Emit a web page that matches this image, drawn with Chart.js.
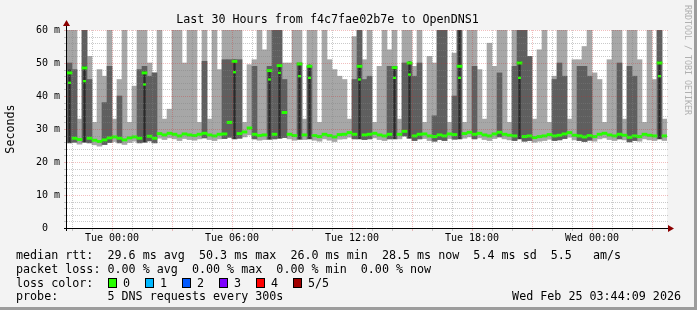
<!DOCTYPE html>
<html>
<head>
<meta charset="utf-8">
<title>Last 30 Hours from f4c7fae02b7e to OpenDNS1</title>
<script src="https://cdn.jsdelivr.net/npm/chart.js@4.4.1/dist/chart.umd.min.js"></script>
<style>
  html, body { margin: 0; padding: 0; background: #f3f3f3; }
  .graph { position: relative; width: 697px; height: 310px; overflow: hidden; background: #f3f3f3;
           font-family: 'DejaVu Sans Mono', monospace; color: #000; }
  .graph canvas { position: absolute; left: 0; top: 0; }
  .txt { position: absolute; font-size: 11.7px; line-height: 14px; white-space: pre; }
  .title { left: 0; width: 655px; top: 12px; text-align: center; }
  .row { left: 16px; }
  .stamp { right: 16px; top: 289px; }
  .box { position: absolute; width: 7px; height: 8px; border: 1px solid #000; top: 278px; }
  .mark { position: absolute; left: 683px; top: 5px; writing-mode: vertical-rl; font-size: 8.3px;
          line-height: 9px; color: #b0b0b0; white-space: pre; }
  .shadeR { position: absolute; left: 694px; top: 0; width: 3px; height: 310px; background: #9c9c9c; }
  .shadeB { position: absolute; left: 0; top: 307px; width: 697px; height: 3px; background: #9c9c9c; }
</style>
</head>
<body>
<div class="graph" id="graph">
  <canvas id="chart" width="697" height="310"></canvas>
  <div class="txt title">Last 30 Hours from f4c7fae02b7e to OpenDNS1</div>
  <div class="txt row" style="top:247.5px">median rtt:  29.6 ms avg  50.3 ms max  26.0 ms min  28.5 ms now  5.4 ms sd  5.5   am/s</div>
  <div class="txt row" style="top:261.5px">packet loss: 0.00 % avg  0.00 % max  0.00 % min  0.00 % now</div>
  <div class="txt row" style="top:275.5px">loss color:</div>
  <div class="txt row" style="top:289px">probe:       5 DNS requests every 300s</div>
  <div class="txt stamp">Wed Feb 25 03:44:09 2026</div>
  <div class="mark">RRDTOOL / TOBI OETIKER</div>
  <div class="shadeR"></div>
  <div class="shadeB"></div>
</div>
<script>
// 120 slots of 15 minutes, Mon 21:45 .. Wed 03:45 (values in ms)
const slotLow = [
  25.8, 26.0, 25.4, 26.0, 25.8, 25.2, 24.8, 25.3, 25.9, 26.2, 25.8, 25.3, 25.9, 26.3, 25.8, 26.0, 26.4, 25.8,
  27.2, 26.8, 27.3, 27.0, 26.5, 27.1, 26.8, 26.6, 27.0, 27.3, 26.8, 26.5, 27.0,
  27.1, 27.5, 27.0, 27.2, 27.6, 28.2, 27.0, 26.6, 26.8, 26.9, 27.0, 27.2, 27.4, 27.0, 26.6,
  26.9, 26.8, 27.0, 26.6, 26.3, 27.0, 26.6, 26.2, 26.9, 27.0, 27.5, 27.0, 27.0, 26.8, 27.0,
  27.3, 26.8, 26.5, 27.0, 27.0, 27.0, 27.9, 27.2, 26.5, 27.0, 27.1, 26.5, 26.3, 26.8, 26.5,
  27.1, 26.9, 27.0, 27.2, 27.6, 27.0, 27.3, 26.8, 26.5, 27.1, 27.6, 27.0, 26.7, 26.5, 27.0,
  26.3, 26.5, 26.0, 26.3, 26.5, 26.9, 26.5, 26.7, 27.1, 27.5, 26.7, 26.5, 26.2, 26.6, 26.3,
  27.0, 27.3, 26.8, 26.5, 27.0, 26.7, 26.1, 26.5, 26.3, 27.0, 26.7, 26.5, 27.0, 26.5
];
const slotHigh = [
  62, 62, 33, 62, 52, 32, 48, 46, 62, 33,
  45, 62, 32, 43, 62, 60, 50, 47, 62, 33,
  36, 62, 62, 50, 62, 62, 32, 62, 33, 62,
  48, 62, 62, 62, 62, 32, 49.5, 51, 62, 54,
  62, 62, 62, 50, 50, 62, 62, 33, 62, 62,
  32, 62, 51, 48, 46, 45, 33, 58, 62, 51,
  62, 32, 49, 62, 54, 62, 33, 60, 62, 49,
  62, 32, 52, 50, 62, 62, 32, 53, 62, 32,
  62, 62, 48, 33, 56, 49, 62, 62, 32, 62,
  62, 62, 52, 33, 54, 62, 32, 46, 62, 62,
  33, 51, 51, 55, 62, 47, 45, 32, 51, 62,
  62, 33, 62, 62, 51, 32, 62, 45, 62, 33
];
const slotDark = [
  50, 48, 0, 62, 45, 0, 0, 38, 49, 0,
  40, 0, 0, 0, 48, 49, 46, 47, 0, 0,
  0, 0, 0, 0, 0, 0, 0, 50.5, 0, 0,
  0, 51, 51, 51, 51, 0, 0, 49, 0, 0,
  49, 62, 62, 45, 0, 0, 50, 0, 49, 0,
  0, 0, 0, 0, 0, 0, 0, 45, 62, 45,
  46, 0, 0, 0, 49, 49, 0, 50, 50, 46,
  50, 0, 0, 34, 62, 62, 0, 40, 62, 0,
  0, 49, 0, 0, 0, 0, 47, 0, 0, 49,
  62, 62, 52, 0, 0, 0, 0, 45, 50, 46,
  0, 0, 49, 49, 46, 0, 0, 0, 0, 0,
  50, 0, 49, 46, 0, 0, 0, 0, 62, 0
];
const slotMedian = [
  47, 27.2, 26.8, 48.5, 27.2, 26.6, 26.2, 26.7, 27.3, 27.6, 27.2, 26.7, 27.3, 27.6, 27.2, 47, 27.8, 27.2,
  28.6, 28.2, 28.7, 28.4, 27.9, 28.5, 28.2, 28.0, 28.4, 28.7, 28.2, 27.9, 28.4,
  28.5, 32, 50.5, 28.6, 29.1, 30.3, 28.4, 28.0, 28.2, 47.7, 28.4, 49.2, 35, 28.4, 28.0,
  49.7, 28.2, 49.0, 28.0, 27.7, 28.4, 28.0, 27.6, 28.3, 28.4, 28.9, 28.4, 49.0, 28.2, 28.4,
  28.7, 28.2, 27.9, 28.4, 48.6, 28.4, 29.3, 50.0, 27.9, 28.4, 28.5, 27.9, 27.7, 28.2, 27.9,
  28.5, 28.3, 49.0, 28.6, 29.0, 28.4, 28.7, 28.2, 27.9, 28.5, 29.0, 28.4, 28.1, 27.9, 50.0,
  27.7, 27.9, 27.4, 27.7, 27.9, 28.3, 27.9, 28.1, 28.5, 28.9, 28.1, 27.9, 27.6, 28.0, 27.7,
  28.4, 28.7, 28.2, 27.9, 28.4, 28.1, 27.5, 27.9, 27.7, 28.4, 28.1, 27.9, 50.0, 27.9
];
// narrow black spikes and their second median sample
const spikeSlot = [0, 3, 15, 33, 40, 42, 46, 48, 58, 65, 68, 78, 90, 118];
const spikeTop  = [48, 49, 47.5, 51, 48, 49.5, 50, 49.5, 49.5, 49, 50.5, 62, 50.5, 50.5];
const spikeLow  = [44, 44.5, 43.5, 47.2, 45, 47, 46, 45.5, 45, 45.5, 46.5, 45.5, 45.5, 46];

const hourTicks = [0, 6, 12, 18, 24];
const hourLabels = ['Tue 00:00', 'Tue 06:00', 'Tue 12:00', 'Tue 18:00', 'Wed 00:00'];
const yTicks = [0, 10, 20, 30, 40, 50, 60];
const yLabels = ['0  ', '10 m', '20 m', '30 m', '40 m', '50 m', '60 m'];
const lossLabels = ['0', '1', '2', '3', '4', '5/5'];
const lossColors = ['#26ff00', '#00b8ff', '#0059ff', '#7e00ff', '#ff0000', '#a10000'];

// loss colour legend
const graph = document.getElementById('graph');
lossLabels.forEach((t, i) => {
  const x = 108 + i * 37;
  const b = document.createElement('div');
  b.className = 'box';
  b.style.left = x + 'px';
  b.style.background = lossColors[i];
  graph.appendChild(b);
  const l = document.createElement('div');
  l.className = 'txt';
  l.style.left = (x + 15) + 'px';
  l.style.top = '275.5px';
  l.textContent = t;
  graph.appendChild(l);
});

const mono = "'DejaVu Sans Mono', monospace";
const band = (top) => slotLow.map((lo, i) => top[i] > 0 ? [lo, top[i]] : null);
const dash = (v) => [v - 0.35, v + 0.35];
const blackData = slotLow.map(() => null);
const spikeData = slotLow.map(() => null);
spikeSlot.forEach((s, j) => {
  blackData[s] = [slotLow[s], spikeTop[j]];
  spikeData[s] = dash(spikeLow[j]);
});

function line(ctx, x1, y1, x2, y2) {
  ctx.beginPath();
  ctx.moveTo(x1, y1);
  ctx.lineTo(x2, y2);
  ctx.stroke();
}

const rrdFrame = {
  id: 'rrdFrame',
  beforeDatasetsDraw(chart) {
    const { ctx, chartArea: a } = chart;
    ctx.save();
    ctx.fillStyle = '#ffffff';
    ctx.fillRect(a.left, a.top, a.right - a.left, a.bottom - a.top);
    ctx.restore();
  },
  afterDatasetsDraw(chart) {
    const { ctx, chartArea: a } = chart;
    const xt = chart.scales.xt, y = chart.scales.y;
    const minorC = 'rgba(128,128,128,0.42)';
    const majorC = 'rgba(210,40,40,0.3)';
    ctx.save();
    ctx.lineWidth = 1;
    // hourly grid, red every 3 hours
    for (let h = Math.ceil(xt.min); h <= xt.max; h++) {
      const x = Math.round(xt.getPixelForValue(h)) + 0.5;
      ctx.strokeStyle = h % 3 === 0 ? majorC : minorC;
      ctx.setLineDash([1, 1]);
      line(ctx, x, a.top, x, a.bottom);
      ctx.setLineDash([]);
      line(ctx, x, a.bottom, x, a.bottom + 3);
    }
    // 2 ms grid, red every 10 ms
    for (let v = 2; v <= y.max; v += 2) {
      const py = Math.round(y.getPixelForValue(v)) + 0.5;
      ctx.strokeStyle = v % 10 === 0 ? majorC : minorC;
      ctx.setLineDash([1, 1]);
      line(ctx, a.left, py, a.right + 2, py);
      ctx.setLineDash([]);
      line(ctx, a.left - 3, py, a.left, py);
    }
    // axes
    ctx.strokeStyle = '#000';
    line(ctx, a.left - 3, a.bottom + 0.5, a.right + 2, a.bottom + 0.5);
    line(ctx, a.left - 0.5, a.bottom + 3, a.left - 0.5, a.top - 4);
    ctx.fillStyle = '#8b0000';
    ctx.beginPath();
    ctx.moveTo(a.right + 1, a.bottom - 3);
    ctx.lineTo(a.right + 1, a.bottom + 4);
    ctx.lineTo(a.right + 7, a.bottom + 0.5);
    ctx.closePath();
    ctx.fill();
    ctx.beginPath();
    ctx.moveTo(a.left - 4, a.top - 4);
    ctx.lineTo(a.left + 3, a.top - 4);
    ctx.lineTo(a.left - 0.5, a.top - 10);
    ctx.closePath();
    ctx.fill();
    ctx.restore();
  }
};

const ctx = document.getElementById('chart').getContext('2d');
new Chart(ctx, {
  type: 'bar',
  data: {
    labels: slotLow.map((_, i) => i),
    datasets: [
      { label: 'median', data: slotMedian.map(dash), backgroundColor: '#26ff00', clip: 0 },
      { label: 'median2', data: spikeData, backgroundColor: '#26ff00', barPercentage: 0.6, clip: 0 },
      { label: 'spike', data: blackData, backgroundColor: '#2a2a2a', barPercentage: 0.45, clip: 0 },
      { label: 'dark', data: band(slotDark), backgroundColor: '#5f5f5f', clip: 0 },
      { label: 'smoke', data: band(slotHigh), backgroundColor: '#a7a7a7', clip: 0 }
    ]
  },
  options: {
    responsive: false,
    animation: false,
    events: [],
    layout: { padding: { top: 30, right: 30, bottom: 62, left: 0 } },
    datasets: { bar: { grouped: false, barPercentage: 1, categoryPercentage: 1, borderWidth: 0 } },
    plugins: { legend: { display: false }, tooltip: { enabled: false }, title: { display: false } },
    scales: {
      x: { type: 'category', display: false },
      xt: {
        type: 'linear', position: 'bottom', min: -2.25, max: 27.75, offset: false,
        afterBuildTicks: (s) => { s.ticks = hourTicks.map(v => ({ value: v })); },
        afterFit: (s) => { s.height = 20; },
        ticks: {
          callback: (v, i) => hourLabels[i], autoSkip: false, maxRotation: 0,
          font: { family: mono, size: 10 }, color: '#000', padding: 4
        },
        grid: { display: false, drawTicks: false, offset: false },
        border: { display: false }
      },
      y: {
        min: 0, max: 60,
        afterBuildTicks: (s) => { s.ticks = yTicks.map(v => ({ value: v })); },
        afterFit: (s) => { s.width = 67; },
        ticks: { callback: (v, i) => yLabels[i], font: { family: mono, size: 10 }, color: '#000', padding: 7 },
        title: { display: true, text: 'Seconds', font: { family: mono, size: 11.7 }, color: '#000', padding: { top: 3.5, bottom: 0 } },
        grid: { display: false, drawTicks: false },
        border: { display: false }
      }
    }
  },
  plugins: [rrdFrame]
});
</script>
</body>
</html>
